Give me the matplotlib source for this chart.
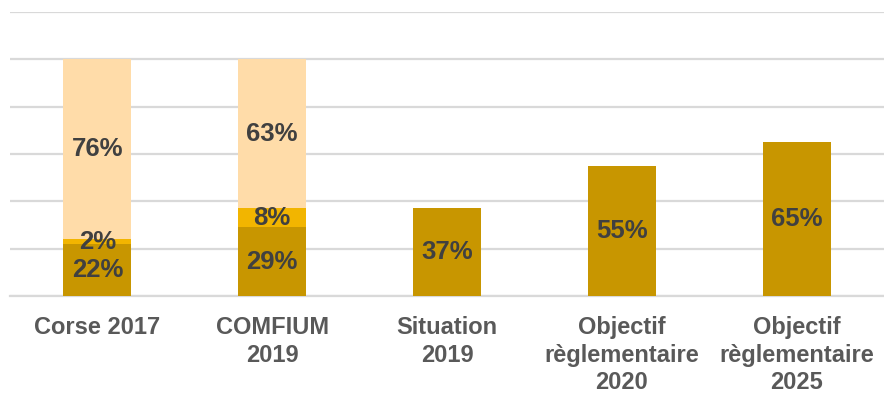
import matplotlib.pyplot as plt
import numpy as np

categories = ['Corse 2017', 'COMFIUM\n2019', 'Situation\n2019',
              'Objectif\nrèglementaire\n2020', 'Objectif\nrèglementaire\n2025']
base = [22, 29, 37, 55, 65]
middle = [2, 8, 0, 0, 0]
top = [76, 63, 0, 0, 0]

colors = ['#C89600', '#F2B500', '#FFDCA9']
label_color = '#404040'

fig = plt.figure(figsize=(8.84, 4.12), dpi=100)
ax = fig.add_axes([10 / 884, 116 / 412, 874 / 884, 284 / 412])

x = np.arange(len(categories))
width = 0.39
bottom = np.zeros(len(categories))
for values, color in zip([base, middle, top], colors):
    values = np.array(values, dtype=float)
    ax.bar(x, values, width, bottom=bottom, color=color, zorder=2)
    for xi, b, v in zip(x, bottom, values):
        if v > 0:
            ax.text(xi, b + v / 2, f'{int(v)}%', ha='center', va='center',
                    fontsize=18.5, fontweight='bold', color=label_color,
                    family='Liberation Sans', zorder=3)
    bottom += values

ax.set_xlim(-0.5, len(categories) - 0.5)
ax.set_ylim(0, 120)
ax.set_yticks(np.arange(0, 121, 20))
ax.yaxis.grid(True, color='#D9D9D9', linewidth=1.6, zorder=0)
ax.tick_params(axis='y', left=False, labelleft=False)
ax.tick_params(axis='x', bottom=False, pad=11)
ax.set_xticks(x)
ax.set_xticklabels(categories, fontsize=17, fontweight='bold', color='#595959',
                   family='Liberation Sans', linespacing=1.25)
for side in ['top', 'right', 'left']:
    ax.spines[side].set_visible(False)
ax.spines['bottom'].set_color('#D9D9D9')
ax.spines['bottom'].set_linewidth(1.6)
ax.spines['bottom'].set_zorder(1)

plt.savefig('out.png', dpi=100)
